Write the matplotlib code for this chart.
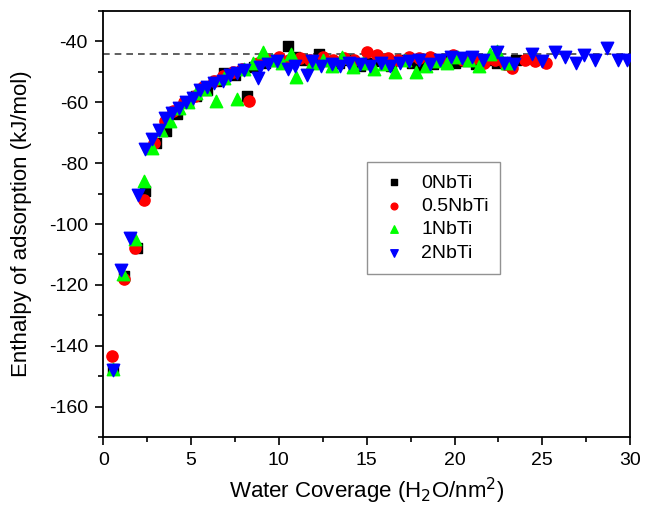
import matplotlib
matplotlib.use('Agg')
import matplotlib.pyplot as plt
from matplotlib.ticker import MultipleLocator

plt.rcParams['font.family'] = ['Liberation Sans', 'DejaVu Sans']
plt.rcParams['axes.unicode_minus'] = False

# 0NbTi
x0 = [0.55, 1.2, 1.9, 2.4, 3.0, 3.6, 4.2, 4.8, 5.3, 5.9, 6.4, 6.9, 7.5, 8.2, 8.6, 9.2, 9.8,
      10.5, 10.9, 11.5, 12.3, 12.8, 13.4, 14.0, 14.6, 15.2, 15.8, 16.4, 17.0, 17.6, 18.2,
      18.8, 19.4, 20.0, 20.6, 21.2, 21.8, 22.4, 23.0, 23.5]
y0 = [-147.5, -117, -108, -89, -73.5, -69.5, -64, -60, -58, -56, -53, -50.5, -51, -58, -48.5,
      -47, -46.5, -41.5, -45, -46, -44, -46.5, -47, -46, -48, -47, -46.5, -48, -46, -47, -48,
      -47.5, -46, -47, -46.5, -47.5, -46, -47, -47.5, -46]

# 0.5NbTi
x05 = [0.5, 1.2, 1.8, 2.3, 2.9, 3.5, 4.0, 4.6, 5.2, 5.7, 6.3, 6.8, 7.4, 7.9, 8.3, 8.8, 9.4,
       10.0, 10.6, 11.2, 11.8, 12.5, 13.1, 13.7, 14.3, 15.0, 15.6, 16.2, 16.8, 17.4, 18.0,
       18.6, 19.2, 19.9, 20.5, 21.1, 21.7, 22.3, 22.9, 23.3, 24.0, 24.6, 25.2]
y05 = [-143.5, -118, -108, -92, -73.5, -66, -63, -60, -58, -55, -53, -51.5, -50, -49, -59.5,
       -47, -46, -45, -46, -45.5, -46, -45, -46, -45.5, -46, -43.5, -44.5, -45.5, -46, -45,
       -45.5, -45, -46, -44.5, -46, -45.5, -47, -46, -47.5, -48.8, -46, -46.5, -47.2]

# 1NbTi
x1 = [0.55, 1.1, 1.8, 2.3, 2.8, 3.3, 3.8, 4.3, 4.8, 5.3, 5.8, 6.4, 6.9, 7.6, 8.0, 8.5, 9.1,
      9.6, 10.2, 10.7, 11.0, 11.9, 12.5, 13.0, 13.6, 14.2, 14.8, 15.4, 16.0, 16.6, 17.2,
      17.8, 18.4, 19.0, 19.6, 20.2, 20.8, 21.4, 22.0, 22.4, 23.0]
y1 = [-147.5, -116.5, -105, -86, -75, -69, -66, -62, -60, -57, -55.5, -59.5, -52, -59, -49,
      -47, -43.6, -46, -47, -44, -51.8, -47, -46, -48, -45, -48.5, -47, -49, -47.5, -50, -46,
      -50, -48, -46.5, -47, -45, -46, -48, -44, -43, -47]

# 2NbTi
x2 = [0.55, 1.0, 1.5, 2.0, 2.4, 2.8, 3.2, 3.5, 3.9, 4.3, 4.7, 5.1, 5.5, 5.9, 6.3, 6.8, 7.2,
      7.6, 8.0, 8.8, 8.9, 9.4, 9.9, 10.5, 10.9, 11.6, 11.9, 12.4, 13.0, 13.5, 14.0, 14.6,
      15.2, 15.8, 16.3, 16.9, 17.4, 18.0, 18.6, 19.2, 19.8, 20.4, 21.0, 21.6, 22.4, 22.8,
      23.4, 24.4, 25.0, 25.7, 26.3, 26.9, 27.4, 28.0, 28.7, 29.3, 29.8]
y2 = [-148, -115, -104.5, -90.5, -75.5, -72, -69, -65, -63.5, -62, -60, -58.5, -56, -55,
      -53.5, -53, -51, -50.5, -49.5, -52, -48.5, -47.5, -46.5, -49, -48, -51, -46.5, -48,
      -47.5, -48, -47, -47.5, -48, -47, -48, -47, -46.5, -46, -47.5, -46, -45, -45.5, -45,
      -46, -43.6, -47.2, -47.5, -44, -46.3, -43.6, -45.2, -47.2, -44.6, -46.2, -42.3, -46.2,
      -46.2]

plateau = -44

fig = plt.figure(figsize=(6.45, 5.24), dpi=100)
ax = fig.add_axes([0.160, 0.166, 0.817, 0.813])

ax.axhline(plateau, color='#444444', linestyle='--', linewidth=1.2, dashes=(4, 3), zorder=1)

ax.scatter(x0, y0, marker='s', s=55, color='black', label='0NbTi', zorder=3)
ax.scatter(x05, y05, marker='o', s=65, color='red', label='0.5NbTi', zorder=3)
ax.scatter(x1, y1, marker='^', s=80, color='#00ff00', label='1NbTi', zorder=3)
ax.scatter(x2, y2, marker='v', s=80, color='blue', label='2NbTi', zorder=3)

ax.set_xlim(0, 30)
ax.set_ylim(-170, -30)
ax.xaxis.set_major_locator(MultipleLocator(5))
ax.xaxis.set_minor_locator(MultipleLocator(2.5))
ax.yaxis.set_major_locator(MultipleLocator(20))
ax.yaxis.set_minor_locator(MultipleLocator(10))
ax.tick_params(which='major', direction='out', length=6, width=1.2, labelsize=14, pad=5)
ax.tick_params(which='minor', direction='out', length=3.5, width=1.2)
for sp in ax.spines.values():
    sp.set_linewidth(1.3)

ax.set_xlabel('Water Coverage (H$_2$O/nm$^2$)', fontsize=16, labelpad=5)
ax.set_ylabel('Enthalpy of adsorption (kJ/mol)', fontsize=16, labelpad=12)

leg = ax.legend(loc='upper left', bbox_to_anchor=(0.50, 0.645), borderaxespad=0,
                fontsize=14, fancybox=False, edgecolor='#777777', markerscale=0.6,
                handletextpad=0.6, borderpad=0.6, labelspacing=0.3, handlelength=1.6)
leg.get_frame().set_linewidth(1.0)

fig.savefig('out.png', dpi=100)
